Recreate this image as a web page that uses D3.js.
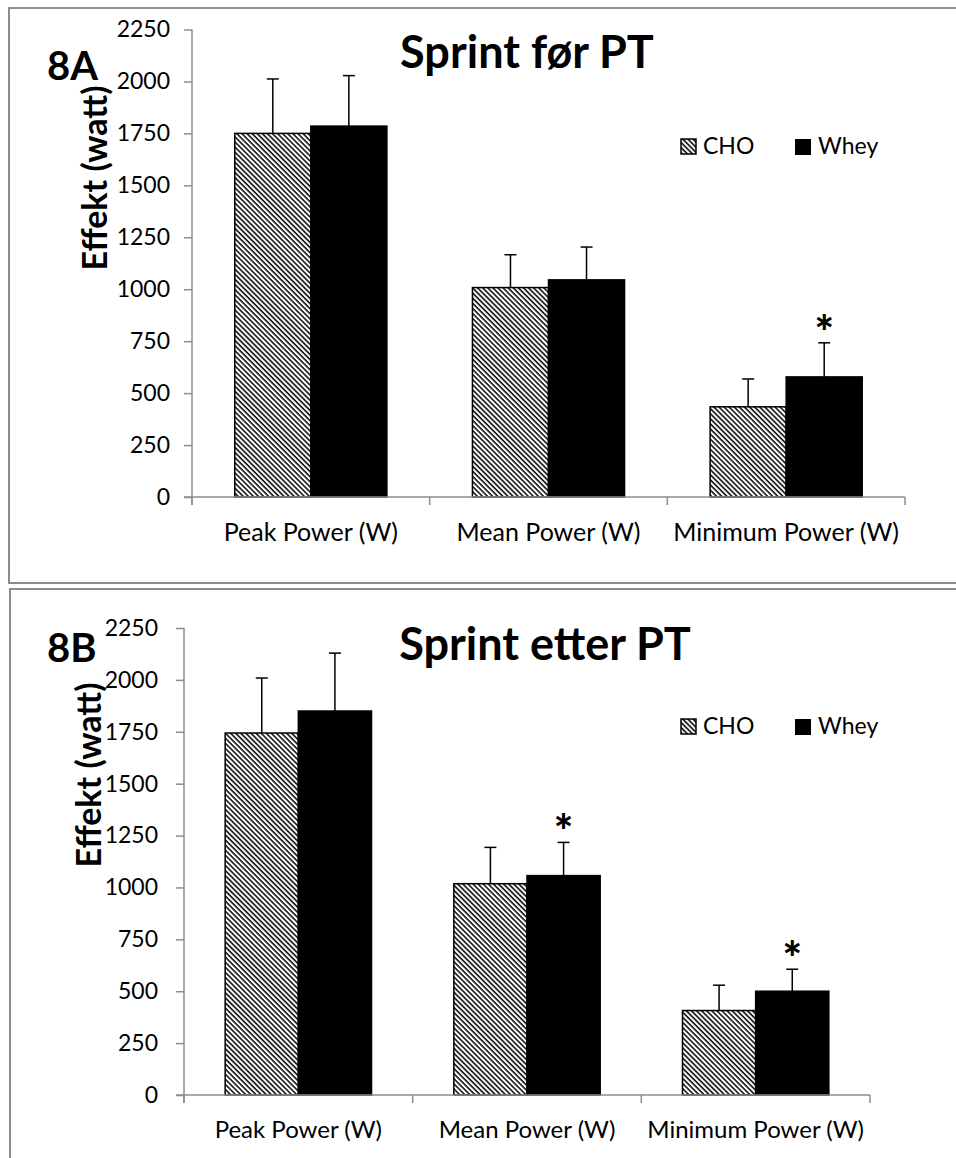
<!DOCTYPE html>
<html>
<head>
<meta charset="utf-8">
<script src="https://cdn.jsdelivr.net/npm/d3@7"></script>
<style>
  body { margin: 0; background: #fff; }
  text { font-family: Lato, "Open Sans", sans-serif; fill: #000; }
</style>
</head>
<body>
<div id="chart"></div>
<script>
// data
var categories = ["Peak Power (W)", "Mean Power (W)", "Minimum Power (W)"];
var seriesNames = ["CHO", "Whey"];
var yTicks = [0, 250, 500, 750, 1000, 1250, 1500, 1750, 2000, 2250];

// 8A - before PT
var choA = [1750, 1008, 434];
var choErrA = [262, 158, 134];
var wheyA = [1785, 1045, 578];
var wheyErrA = [243, 158, 164];
var starsA = [false, false, true];

// 8B - after PT
var choB = [1744, 1018, 407];
var choErrB = [265, 175, 122];
var wheyB = [1850, 1057, 500];
var wheyErrB = [279, 160, 106];
var starsB = [false, true, true];

var svg = d3.select("#chart")
  .append("svg")
  .attr("width", 956)
  .attr("height", 1158);

// hatch pattern for CHO
var defs = svg.append("defs");
var pat = defs.append("pattern")
  .attr("id", "hatch")
  .attr("patternUnits", "userSpaceOnUse")
  .attr("width", 3.6)
  .attr("height", 10)
  .attr("patternTransform", "rotate(-45)");
pat.append("rect").attr("width", 3.6).attr("height", 10).attr("fill", "#fff");
pat.append("line")
  .attr("x1", 1).attr("y1", 0).attr("x2", 1).attr("y2", 10)
  .attr("stroke", "#000").attr("stroke-width", 1.5);

function drawPanel(cfg) {
  // panel frame
  svg.append("rect")
    .attr("x", cfg.frame[0]).attr("y", cfg.frame[1])
    .attr("width", cfg.frame[2]).attr("height", cfg.frame[3])
    .attr("fill", "none").attr("stroke", "#8c8c8c").attr("stroke-width", 2);

  var y = d3.scaleLinear().domain([0, 2250]).range([cfg.y0, cfg.y1]);
  var x = d3.scaleBand().domain(categories).range([cfg.x0, cfg.x1]).padding(0);
  var bw = x.bandwidth() * 0.32;

  var g = svg.append("g");

  // y axis
  var yAxis = g.append("g")
    .attr("transform", "translate(" + cfg.x0 + ",0)")
    .call(d3.axisLeft(y).tickValues(yTicks).tickSize(8).tickPadding(cfg.tickPad).tickFormat(d3.format("d")));
  yAxis.select(".domain").attr("stroke", "#8c8c8c").attr("stroke-width", 1.5)
    .attr("d", "M0," + (cfg.y0 + 8) + "V" + cfg.y1);
  yAxis.selectAll(".tick line").attr("stroke", "#8c8c8c").attr("stroke-width", 1.5);
  yAxis.selectAll(".tick text").style("font-size", "23px").attr("fill", "#000");

  // bars
  categories.forEach(function(c, i) {
    var cx = x(c) + x.bandwidth() / 2;
    // CHO
    g.append("rect")
      .attr("x", cx - bw).attr("y", y(cfg.cho[i]))
      .attr("width", bw).attr("height", y(0) - y(cfg.cho[i]))
      .attr("fill", "url(#hatch)").attr("stroke", "#000").attr("stroke-width", 1.5);
    // Whey
    g.append("rect")
      .attr("x", cx).attr("y", y(cfg.whey[i]))
      .attr("width", bw).attr("height", y(0) - y(cfg.whey[i]))
      .attr("fill", "#000").attr("stroke", "#000").attr("stroke-width", 1.5);

    // error bars (upper only)
    [[cx - bw / 2, cfg.cho[i], cfg.choErr[i]], [cx + bw / 2, cfg.whey[i], cfg.wheyErr[i]]].forEach(function(e) {
      g.append("line")
        .attr("x1", e[0]).attr("x2", e[0])
        .attr("y1", y(e[1])).attr("y2", y(e[1] + e[2]))
        .attr("stroke", "#000").attr("stroke-width", 1.5);
      g.append("line")
        .attr("x1", e[0] - 6).attr("x2", e[0] + 6)
        .attr("y1", y(e[1] + e[2])).attr("y2", y(e[1] + e[2]))
        .attr("stroke", "#000").attr("stroke-width", 1.5);
    });

    if (cfg.stars[i]) {
      g.append("text")
        .attr("x", cx + bw / 2)
        .attr("y", y(cfg.whey[i] + cfg.wheyErr[i]) + 6)
        .attr("text-anchor", "middle")
        .style("font-size", "46px").style("font-weight", "900")
        .text("*");
    }
  });

  // x axis
  var xAxis = g.append("g")
    .attr("transform", "translate(0," + cfg.y0 + ")");
  xAxis.append("line")
    .attr("x1", cfg.x0 - 8).attr("x2", cfg.x1)
    .attr("stroke", "#8c8c8c").attr("stroke-width", 1.5);
  var bounds = categories.map(function(c) { return x(c); }).concat([cfg.x1]);
  xAxis.selectAll(".xt").data(bounds).enter().append("line")
    .attr("x1", function(d) { return d; }).attr("x2", function(d) { return d; })
    .attr("y1", 0).attr("y2", 8)
    .attr("stroke", "#8c8c8c").attr("stroke-width", 1.5);
  xAxis.selectAll(".xl").data(categories).enter().append("text")
    .attr("x", function(d) { return x(d) + x.bandwidth() / 2; })
    .attr("y", cfg.labelY - cfg.y0)
    .attr("text-anchor", "middle")
    .style("font-size", cfg.catSize)
    .text(function(d) { return d; });

  // titles
  svg.append("text")
    .attr("x", cfg.titleX).attr("y", cfg.titleY)
    .attr("text-anchor", "middle")
    .style("font-size", "45px").style("font-weight", "bold")
    .text(cfg.title);
  svg.append("text")
    .attr("x", 47).attr("y", cfg.tagY)
    .style("font-size", "40px").style("font-weight", "bold")
    .text(cfg.tag);
  svg.append("text")
    .attr("transform", "translate(" + cfg.ylabX + "," + cfg.ylabY + ") rotate(-90)")
    .attr("text-anchor", "middle")
    .style("font-size", "34px").style("font-weight", "bold")
    .text("Effekt (watt)");

  // legend
  var leg = svg.append("g").attr("transform", "translate(681," + cfg.legY + ")");
  leg.append("rect").attr("x", 0).attr("y", -15).attr("width", 15).attr("height", 15)
    .attr("fill", "url(#hatch)").attr("stroke", "#000").attr("stroke-width", 1.5);
  leg.append("text").attr("x", 22).attr("y", 0).style("font-size", "23px").text(seriesNames[0]);
  leg.append("rect").attr("x", 114).attr("y", -15).attr("width", 16).attr("height", 16)
    .attr("fill", "#000");
  leg.append("text").attr("x", 137).attr("y", 0).style("font-size", "23px").text(seriesNames[1]);
}

drawPanel({
  frame: [9, 8, 960, 575],
  x0: 192, x1: 905, y0: 497, y1: 29.5,
  tickPad: 14,
  cho: choA, choErr: choErrA, whey: wheyA, wheyErr: wheyErrA, stars: starsA,
  labelY: 541, catSize: "25px",
  title: "Sprint før PT", titleX: 527, titleY: 68,
  tag: "8A", tagY: 80,
  ylabX: 107, ylabY: 178,
  legY: 154
});

drawPanel({
  frame: [10, 589, 960, 600],
  x0: 184, x1: 870, y0: 1095, y1: 628,
  tickPad: 18,
  cho: choB, choErr: choErrB, whey: wheyB, wheyErr: wheyErrB, stars: starsB,
  labelY: 1138, catSize: "24px",
  title: "Sprint etter PT", titleX: 545, titleY: 660,
  tag: "8B", tagY: 662,
  ylabX: 101, ylabY: 775,
  legY: 734
});
</script>
</body>
</html>
